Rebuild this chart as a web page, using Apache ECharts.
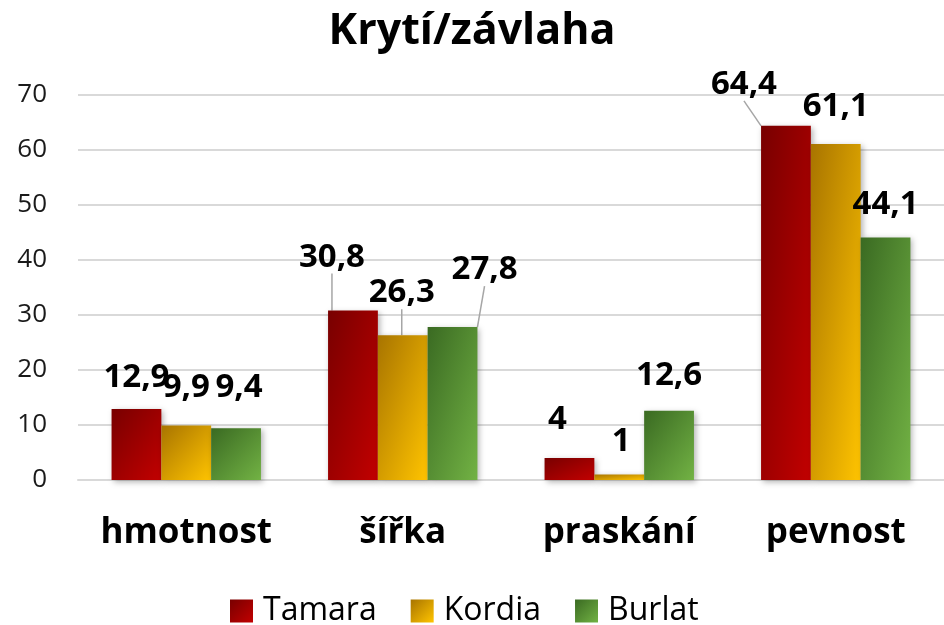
<!DOCTYPE html>
<html>
<head>
<meta charset="utf-8">
<script src="https://cdn.jsdelivr.net/npm/echarts@6/dist/echarts.min.js"></script>
<style>
  html, body { margin: 0; padding: 0; background: #fff; }
  #chart { width: 944px; height: 625px; }
</style>
</head>
<body>
<div id="chart"></div>
<script>
var categories = ['hmotnost', 'šířka', 'praskání', 'pevnost'];
var seriesNames = ['Tamara', 'Kordia', 'Burlat'];
var tamara = [12.9, 30.8, 4, 64.4];
var kordia = [9.9, 26.3, 1, 61.1];
var burlat = [9.4, 27.8, 12.6, 44.1];
var yTicks = [0, 10, 20, 30, 40, 50, 60, 70];

// label shifts (dx, dy) per series / category, and which ones get a leader line
var labelShift = [
	[[0, -10], [-21, -32], [-12, -17], [-42, -20]],
	[[0, -16], [-1, -21], [2, -11], [0, -16]],
	[[3, -19], [32, -36], [0, -14], [0, -11]]
];
var leader = [
	[false, true, false, true],
	[false, true, false, false],
	[false, true, false, false]
];

var colors = [
	['#780000', '#c20000'],
	['#a87400', '#ffc400'],
	['#3a6a22', '#72b244']
];

var catGap = 0.31;
var font = '"Open Sans", Lato, sans-serif';

function grad(c) {
	return new echarts.graphic.LinearGradient(0, 0, 1, 1, [
		{ offset: 0, color: c[0] },
		{ offset: 1, color: c[1] }
	]);
}

// excel-like gradient stretched with the bar (color follows x/w + y/h)
function barGrad(c, left, top, w, h) {
	var k = 2 * w * h / (w * w + h * h);
	return new echarts.graphic.LinearGradient(left, top, left + k * h, top + k * w, [
		{ offset: 0, color: c[0] },
		{ offset: 1, color: c[1] }
	], true);
}

function makeSeries(idx, values) {
	return {
		name: seriesNames[idx],
		type: 'bar',
		barGap: '0%',
		barCategoryGap: (catGap * 100) + '%',
		itemStyle: {
			color: grad(colors[idx]),
			shadowBlur: 6,
			shadowColor: 'rgba(0,0,0,0.3)',
			shadowOffsetX: 2,
			shadowOffsetY: 2
		},
		label: {
			show: true,
			position: 'top',
			distance: 5,
			fontFamily: font,
			fontWeight: 'bold',
			fontSize: 33,
			color: '#000',
			formatter: function (p) { return String(p.value).replace('.', ','); }
		},
		labelLayout: function (p) {
			var s = labelShift[idx][p.dataIndex];
			return { dx: s[0], dy: s[1] };
		},
		data: values.map(function (v, i) {
			return {
				value: v,
				labelLine: { show: leader[idx][i], lineStyle: { color: '#a6a6a6', width: 1.5 } }
			};
		})
	};
}

var allValues = [tamara, kordia, burlat];
var series = allValues.map(function (v, i) { return makeSeries(i, v); });

var chart = echarts.init(document.getElementById('chart'));
chart.setOption({
	animation: false,
	title: {
		text: 'Krytí/závlaha',
		left: 'center',
		top: 5,
		textStyle: { fontFamily: font, fontWeight: 'bold', fontSize: 43, color: '#000' }
	},
	legend: {
		data: seriesNames,
		bottom: -2,
		left: 230,
		padding: 0,
		icon: 'rect',
		itemWidth: 23,
		itemHeight: 23,
		itemGap: 34,
		textStyle: { fontFamily: font, fontSize: 32, color: '#000', padding: [0, 0, 0, 5] }
	},
	grid: { left: 78, right: -9, top: 95, bottom: 145 },
	xAxis: {
		type: 'category',
		data: categories,
		axisLine: { lineStyle: { color: '#d9d9d9', width: 2 } },
		axisTick: { show: false },
		axisLabel: {
			interval: 0,
			margin: 36,
			fontFamily: font,
			fontWeight: 'bold',
			fontSize: 35,
			color: '#000'
		}
	},
	yAxis: {
		type: 'value',
		min: yTicks[0],
		max: yTicks[yTicks.length - 1],
		interval: 10,
		axisLine: { show: false },
		axisTick: { show: false },
		splitLine: { lineStyle: { color: '#d9d9d9', width: 2 } },
		axisLabel: { margin: 31, fontFamily: font, fontSize: 26, color: '#1a1a1a' }
	},
	series: series
});

// give every bar its own gradient, sized from the axes
try {
	var c0 = chart.convertToPixel({ xAxisIndex: 0 }, categories[0]);
	var c1 = chart.convertToPixel({ xAxisIndex: 0 }, categories[1]);
	var bw = (c1 - c0) * (1 - catGap) / 3;
	var base = chart.convertToPixel({ yAxisIndex: 0 }, 0);
	var upd = series.map(function (s, si) {
		return {
			data: s.data.map(function (item, i) {
				var cx = chart.convertToPixel({ xAxisIndex: 0 }, categories[i]);
				var left = cx - 1.5 * bw + si * bw;
				var top = chart.convertToPixel({ yAxisIndex: 0 }, item.value);
				var h = Math.max(base - top, 1);
				return {
					value: item.value,
					labelLine: item.labelLine,
					itemStyle: { color: barGrad(colors[si], left, top, bw, h) }
				};
			})
		};
	});
	chart.setOption({ series: upd });
} catch (e) {
	console.log(e);
}
</script>
</body>
</html>
